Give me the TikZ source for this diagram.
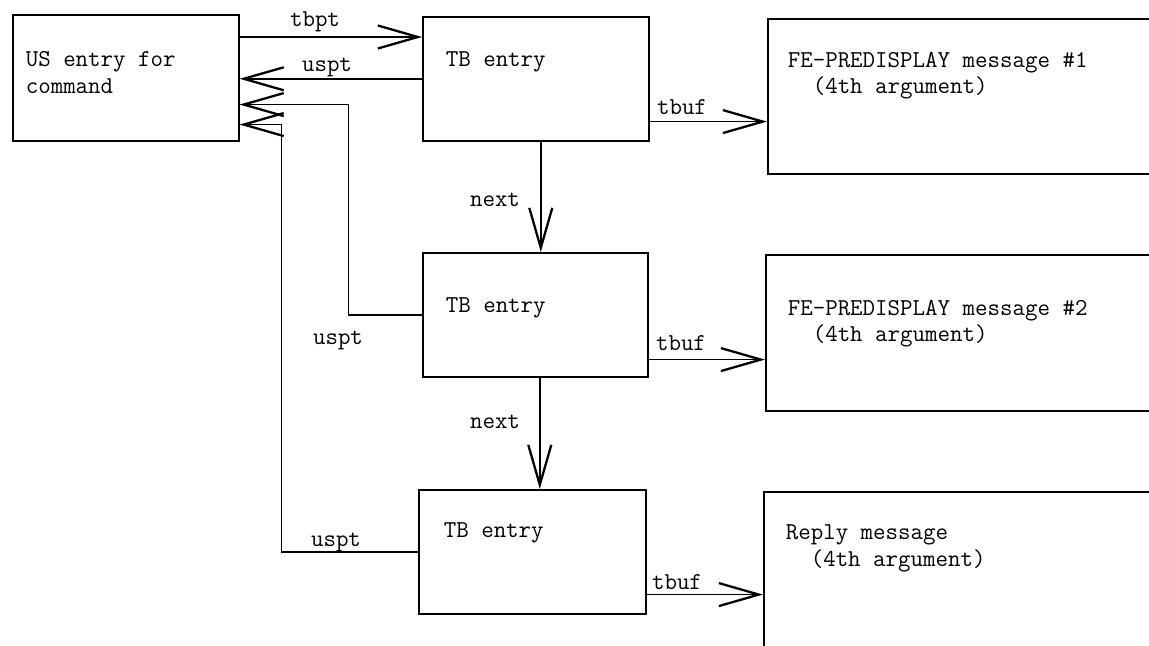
\documentclass[tikz,border=0pt]{standalone}
\usetikzlibrary{arrows.meta}

\begin{document}
\begin{tikzpicture}[x=1cm,y=1cm,line width=.9pt,font=\ttfamily\fontsize{13.8}{15}\selectfont,
  entry/.style={draw,anchor=north west,inner sep=0pt},
  txt/.style={anchor=west,inner sep=0pt,align=left},
  lbl/.style={inner sep=0pt},
  arr/.style={-{Straight Barb[length=0.8cm,width=0.46cm,line width=1.3pt]}}]
\useasboundingbox (0,0) rectangle (22.98,12.90);
\clip (0,0) rectangle (22.98,12.90);
% boxes
\node[entry,minimum width=4.52cm,minimum height=2.52cm] (us) at (0.24,12.62) {};
\node[entry,minimum width=4.52cm,minimum height=2.48cm] (tb1) at (8.44,12.58) {};
\node[entry,minimum width=4.50cm,minimum height=2.48cm] (tb2) at (8.44,7.86) {};
\node[entry,minimum width=4.54cm,minimum height=2.48cm] (tb3) at (8.36,3.12) {};
\node[entry,minimum width=8.06cm,minimum height=3.10cm] (fe1) at (15.34,12.54) {};
\node[entry,minimum width=8.10cm,minimum height=3.12cm] (fe2) at (15.30,7.82) {};
\node[entry,minimum width=8.10cm,minimum height=4.00cm] (rep) at (15.26,3.08) {};
% texts
\node[txt] (ustext) at (0.50,11.45) {US entry for\\command};
\node[txt] (tb1text) at (8.90,11.66) {TB entry};
\node[txt] (tb2text) at (8.90,6.74) {TB entry};
\node[txt] (tb3text) at (8.86,2.24) {TB entry};
\node[txt] (fe1text) at (15.74,11.38) {FE-PREDISPLAY message \#1\\\phantom{xx}(4th argument)};
\node[txt] (fe2text) at (15.74,6.42) {FE-PREDISPLAY message \#2\\\phantom{xx}(4th argument)};
\node[txt] (reptext) at (15.70,1.93) {Reply message\\\phantom{xx}(4th argument)};
% pointers
\coordinate (tbptfrom) at ([yshift=-0.46cm]us.north east);
\draw[arr] (tbptfrom) -- (tbptfrom -| tb1.west);
\draw[arr] (tb1.west) -- (tb1.west -| us.east);
\draw[arr] (tb2.west) -| ([xshift=2.18cm,yshift=0.74cm]us.south east) -- ([yshift=0.74cm]us.south east);
\draw[arr] (tb3.west) -| ([xshift=0.84cm,yshift=0.34cm]us.south east) -- ([yshift=0.34cm]us.south east);
\coordinate (next1from) at ([xshift=0.1cm]tb1.south);
\coordinate (next2from) at ([xshift=0.09cm]tb2.south);
\draw[arr] (next1from) -- (next1from |- tb2.north);
\draw[arr] (next2from) -- (next2from |- tb3.north);
\coordinate (buf1) at ([yshift=0.40cm]tb1.south east);
\coordinate (buf2) at ([yshift=0.36cm]tb2.south east);
\coordinate (buf3) at ([yshift=0.40cm]tb3.south east);
\draw[arr] (buf1) -- (buf1 -| fe1.west);
\draw[arr] (buf2) -- (buf2 -| fe2.west);
\draw[arr] (buf3) -- (buf3 -| rep.west);
% labels
\node[lbl] (tbptlbl) at (6.30,12.46) {tbpt};
\node[lbl] (uspt1lbl) at (6.54,11.56) {uspt};
\node[lbl] (next1lbl) at (9.90,8.90) {next};
\node[lbl] (tbuf1lbl) at (13.64,10.76) {tbuf};
\node[lbl] (uspt2lbl) at (6.76,6.10) {uspt};
\node[lbl] (tbuf2lbl) at (13.62,6.04) {tbuf};
\node[lbl] (next2lbl) at (9.90,4.46) {next};
\node[lbl] (uspt3lbl) at (6.72,2.06) {uspt};
\node[lbl] (tbuf3lbl) at (13.54,1.26) {tbuf};
\end{tikzpicture}
\end{document}
